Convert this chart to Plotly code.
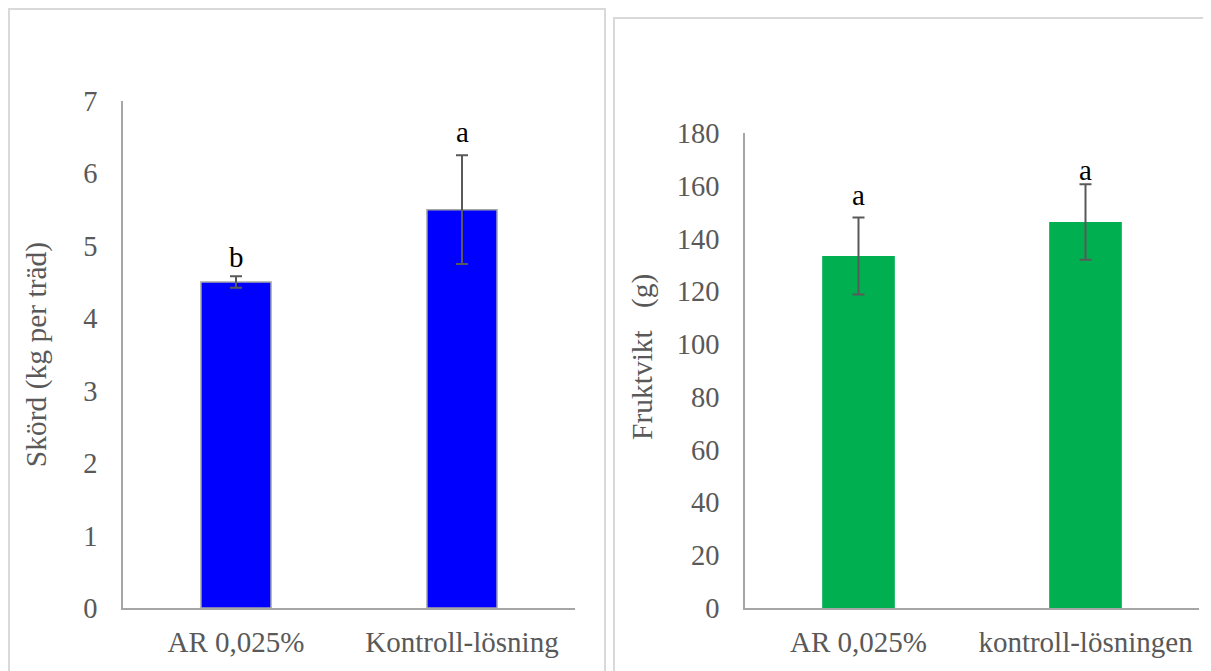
import plotly.graph_objects as go

# Data
cats_left = ["AR 0,025%", "Kontroll-lösning"]
yield_vals = [4.5, 5.5]
yield_err = [0.08, 0.75]
yield_letters = ["b", "a"]
yield_letter_pos = [4.85, 6.57]

cats_right = ["AR 0,025%", "kontroll-lösningen"]
weight_vals = [133.4, 146.3]
weight_err = [14.6, 14.3]
weight_letters = ["a", "a"]
weight_letter_pos = [156.5, 166]

OFF = 8  # page body margin
W, H = 1211 - OFF, 671 - OFF
FONT = "Liberation Serif"
TICK = "#595959"
AXIS = "#a6a6a6"


def px(x):
    return (x - OFF) / W


def py(y):
    return 1 - (y - OFF) / H


fig = go.Figure()
fig.add_trace(go.Bar(
    x=cats_left, y=yield_vals, xaxis="x", yaxis="y",
    marker=dict(color="#0000ff", line=dict(color="#a6a6a6", width=1.5)),
    width=0.31,
    error_y=dict(type="data", array=yield_err, color="#595959", thickness=2, width=6),
    showlegend=False,
))
fig.add_trace(go.Bar(
    x=cats_right, y=weight_vals, xaxis="x2", yaxis="y2",
    marker=dict(color="#00b050", line=dict(width=0)),
    width=0.32,
    error_y=dict(type="data", array=weight_err, color="#595959", thickness=2, width=6),
    showlegend=False,
))

for c, t, p in zip(cats_left, yield_letters, yield_letter_pos):
    fig.add_annotation(x=c, y=p, xref="x", yref="y", text=t, showarrow=False,
                       font=dict(family=FONT, size=29, color="black"))
for c, t, p in zip(cats_right, weight_letters, weight_letter_pos):
    fig.add_annotation(x=c, y=p, xref="x2", yref="y2", text=t, showarrow=False,
                       font=dict(family=FONT, size=29, color="black"))

xtickfont = dict(family=FONT, size=29, color=TICK)
ytickfont = dict(family=FONT, size=28.5, color=TICK)
titlefont = dict(family=FONT, size=29.5, color=TICK)

# right y-axis title (placed like the original, slightly above axis centre)
fig.add_annotation(x=px(642), y=py(357), xref="paper", yref="paper",
                   text="Fruktvikt\u00a0\u00a0 (g)", textangle=-90, showarrow=False,
                   xanchor="center", yanchor="middle", font=titlefont)

# panel borders
fig.add_shape(type="rect", xref="paper", yref="paper",
              x0=px(9), x1=px(605), y0=-0.05, y1=py(9),
              line=dict(color="#d9d9d9", width=2), layer="below")
fig.add_shape(type="rect", xref="paper", yref="paper",
              x0=px(614), x1=1.05, y0=-0.05, y1=py(18),
              line=dict(color="#d9d9d9", width=2), layer="below")

fig.update_layout(
    width=W, height=H,
    margin=dict(l=0, r=0, t=0, b=0, autoexpand=False),
    paper_bgcolor="white", plot_bgcolor="white",
    xaxis=dict(domain=[px(123), px(575)], anchor="y", showline=True, linecolor=AXIS,
               linewidth=1.5, tickfont=xtickfont, ticks="", showgrid=False,
               automargin=False, ticklabelstandoff=7),
    yaxis=dict(domain=[py(608), py(101)], anchor="x", range=[0, 7], dtick=1,
               showline=True, linecolor=AXIS, linewidth=1.5, showgrid=False,
               tickfont=ytickfont, ticks="", zeroline=False, automargin=False,
               ticklabelstandoff=18,
               title=dict(text="Skörd (kg per träd)", font=titlefont, standoff=28)),
    xaxis2=dict(domain=[px(745), px(1199)], anchor="y2", showline=True, linecolor=AXIS,
                linewidth=1.5, tickfont=xtickfont, ticks="", showgrid=False,
                automargin=False, ticklabelstandoff=7),
    yaxis2=dict(domain=[py(608), py(133)], anchor="x2", range=[0, 180], dtick=20,
                showline=True, linecolor=AXIS, linewidth=1.5, showgrid=False,
                tickfont=ytickfont, ticks="", zeroline=False, automargin=False,
                ticklabelstandoff=18),
)

fig.write_html("out.html")
